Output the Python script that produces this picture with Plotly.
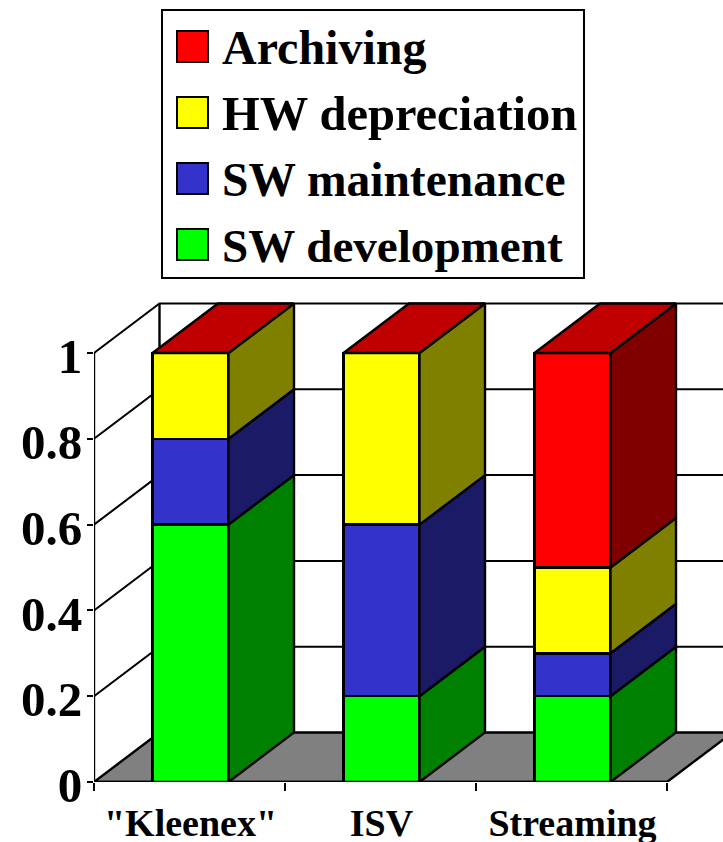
import plotly.graph_objects as go

# Cost share per project type, stacked bottom to top
categories = ['"Kleenex"', "ISV", "Streaming"]
sw_development = [0.6, 0.2, 0.2]
sw_maintenance = [0.2, 0.4, 0.1]
hw_depreciation = [0.2, 0.4, 0.2]
archiving = [0.0, 0.0, 0.5]
y_ticks = [0, 0.2, 0.4, 0.6, 0.8, 1]
y_labels = ["0", "0.2", "0.4", "0.6", "0.8", "1"]

W, H = 723, 842
AXIS_LEFT, AXIS_BOTTOM = 94, 782
PX_PER_CATEGORY = 191.0
PX_PER_UNIT = 429.0
# Oblique projection of the chart depth, in axis units
DX = 65.5 / PX_PER_CATEGORY
DY = 49.5 / PX_PER_UNIT
BAR_WIDTH = 76 / PX_PER_CATEGORY
BAR_SHIFT = 1 / PX_PER_CATEGORY
FONT = "Liberation Serif"
EDGE = 2.4

series = [
    ("SW development", sw_development, "#00FF00", "#008000", 47.1),
    ("SW maintenance", sw_maintenance, "#3333CC", "#1A1A66", 47.5),
    ("HW depreciation", hw_depreciation, "#FFFF00", "#808000", 48.5),
    ("Archiving", archiving, "#FF0000", "#800000", 48),
]
TOP_COLOR = "#C00000"

fig = go.Figure()
n = len(categories)
centers = [i + 0.5 + BAR_SHIFT for i in range(n)]


def poly(px, py):
    return "M" + " L".join(f"{a},{b}" for a, b in zip(px, py)) + " Z"


shapes = []
# Floor of the chart box
shapes.append(dict(type="path", xref="x", yref="y", layer="below",
                   path=poly([0, n, n + DX, DX], [0, 0, DY, DY]),
                   fillcolor="#808080", line=dict(color="black", width=EDGE)))
# Grid lines run across the side wall, then along the back wall
for t in y_ticks[1:]:
    shapes.append(dict(type="path", xref="x", yref="y", layer="below",
                       path=f"M0,{t} L{DX},{t + DY} L{n + 2},{t + DY}",
                       line=dict(color="black", width=2)))
shapes.append(dict(type="line", xref="x", yref="y", layer="below",
                   x0=DX, x1=DX, y0=DY, y1=1 + DY, line=dict(color="black", width=EDGE)))
# Axis lines stop at the last tick, so they are drawn separately
shapes.append(dict(type="line", xref="x", yref="y", layer="below",
                   x0=0, x1=0, y0=0, y1=1, line=dict(color="black", width=EDGE)))
shapes.append(dict(type="line", xref="x", yref="y", layer="above",
                   x0=0, x1=n, y0=0, y1=0, line=dict(color="black", width=2.6)))

# Front faces of the stacked columns
for name, values, front, side, _ in series:
    fig.add_trace(go.Bar(x=centers, y=values, name=name, width=BAR_WIDTH,
                         marker=dict(color=front, line=dict(color="black", width=EDGE)),
                         showlegend=False))

# Right-hand side and top faces of each column
for i, c in enumerate(centers):
    right = c + BAR_WIDTH / 2
    left = c - BAR_WIDTH / 2
    base = 0.0
    for name, values, front, side, _ in series:
        v = values[i]
        if v > 0:
            fig.add_trace(go.Scatter(
                x=[right, right + DX, right + DX, right, right],
                y=[base, base + DY, base + v + DY, base + v, base],
                mode="lines", fill="toself", fillcolor=side,
                line=dict(color="black", width=EDGE), showlegend=False, hoverinfo="skip"))
        base += v
    fig.add_trace(go.Scatter(
        x=[left, right, right + DX, left + DX, left],
        y=[base, base, base + DY, base + DY, base],
        mode="lines", fill="toself", fillcolor=TOP_COLOR,
        line=dict(color="black", width=EDGE), showlegend=False, hoverinfo="skip"))


# Legend box in page pixels
def px(x):
    return x / W


def py(y):
    return 1 - y / H


shapes.append(dict(type="rect", xref="paper", yref="paper", x0=px(162), x1=px(584),
                   y0=py(278), y1=py(10), fillcolor="white", line=dict(color="black", width=2)))
annotations = []
legend_rows = [31, 97, 163, 229]
for top_px, (name, values, front, side, size) in zip(legend_rows, reversed(series)):
    shapes.append(dict(type="rect", xref="paper", yref="paper", x0=px(177), x1=px(208),
                       y0=py(top_px + 31), y1=py(top_px), fillcolor=front,
                       line=dict(color="black", width=2)))
    annotations.append(dict(xref="paper", yref="paper", x=px(220), y=py(top_px + 16.5),
                            xanchor="left", yanchor="middle", showarrow=False, text=f"<b>{name}</b>",
                            font=dict(family=FONT, size=size, color="black")))

fig.update_layout(
    width=W, height=H, autosize=False, barmode="stack",
    margin=dict(l=0, r=0, t=0, b=0),
    paper_bgcolor="white", plot_bgcolor="white", showlegend=False,
    shapes=shapes, annotations=annotations,
    xaxis=dict(domain=[AXIS_LEFT / W, 1], range=[0, (W - AXIS_LEFT) / PX_PER_CATEGORY],
               automargin=False,
               tickmode="array", tickvals=centers, ticktext=[f"<b>{c}</b>" for c in categories],
               ticks="", showgrid=False, zeroline=False, showline=False,
               tickfont=dict(family=FONT, size=38, color="black"), ticklabelstandoff=15,
               minor=dict(tickmode="array", tickvals=list(range(n + 1)), ticks="outside",
                          ticklen=8, tickwidth=2, tickcolor="black", showgrid=False)),
    yaxis=dict(domain=[(H - AXIS_BOTTOM) / H, 1], range=[0, AXIS_BOTTOM / PX_PER_UNIT],
               automargin=False,
               tickmode="array", tickvals=y_ticks, ticktext=[f"<b>{t}</b>" for t in y_labels],
               ticks="outside", ticklen=6, tickwidth=2, tickcolor="black",
               showgrid=False, zeroline=False, showline=False,
               tickfont=dict(family=FONT, size=49, color="black"),
               ticklabelstandoff=-5, ticklabelshift=3),
)

fig.write_html("out.html", config=dict(displayModeBar=False))
